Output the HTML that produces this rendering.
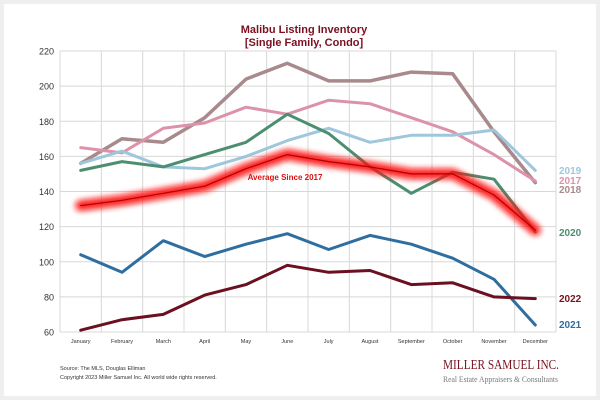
<!DOCTYPE html>
<html><head><meta charset="utf-8"><style>
body{margin:0;background:#efefef;font-family:"Liberation Sans",sans-serif}
#card{position:absolute;left:4px;top:4px;width:592px;height:392px;background:#fff}
</style></head><body>
<div id="card"></div>
<svg id="c" width="600" height="400" style="position:absolute;left:0;top:0">
<defs><filter id="glow" x="-10%" y="-50%" width="120%" height="200%"><feGaussianBlur stdDeviation="3"/></filter></defs>
</svg>
<script>
const months=["January","February","March","April","May","June","July","August","September","October","November","December"];
const yTicks=[60,80,100,120,140,160,180,200,220];
const s2017=[165,162,176,179,188,184,192,190,182,174,161,146];
const s2018=[156,170,168,182,204,213,203,203,208,207,174,145];
const s2019=[156,163,154,153,160,169,176,168,172,172,175,152];
const s2020=[152,157,154,161,168,184,173,154,139,151,147,117];
const s2021=[104,94,112,103,110,116,107,115,110,102,90,64];
const s2022=[61,67,70,81,87,98,94,95,87,88,80,79];
const sAvg=[132,135,139,143,153,161,157,154,150,150,138,118];
const NS="http://www.w3.org/2000/svg",svg=document.getElementById('c');
const L=60,R=556,T=51,B=332,ymin=60,ymax=220;
const bw=(R-L)/months.length;
const x=i=>L+bw*(i+0.5), y=v=>B-(v-ymin)/(ymax-ymin)*(B-T);
function el(t,a,txt){const e=document.createElementNS(NS,t);for(const k in a)e.setAttribute(k,a[k]);if(txt!=null)e.textContent=txt;svg.appendChild(e);return e;}
let e;
e=el('text',{x:304,y:33,'text-anchor':'middle','font-size':11,'font-weight':'bold',fill:'#7a1020'},'Malibu Listing Inventory');


e=el('text',{x:304,y:46,'text-anchor':'middle','font-size':11,'font-weight':'bold',fill:'#7a1020'},'[Single Family, Condo]');


yTicks.forEach(v=>{
 e=el('line',{x1:L,x2:R,y1:y(v),y2:y(v),stroke:'#d8d8d8','stroke-width':1});
 
 
 e=el('text',{x:L-6,y:y(v)+3.5,'text-anchor':'end','font-size':9,fill:'#333'},v);
 
 
});
for(let i=0;i<=months.length;i++){
 e=el('line',{x1:L+bw*i,x2:L+bw*i,y1:T,y2:B,stroke:'#d8d8d8','stroke-width':1});
 
 
}
months.forEach((m,i)=>{
 e=el('text',{x:x(i),y:B+11,'text-anchor':'middle','font-size':5.5,fill:'#333'},m);
 
 
});
const pts=a=>a.map((v,i)=>x(i).toFixed(1)+','+y(v).toFixed(1)).join(' ');
function series(a,col,w,name){
 e=el('polyline',{points:pts(a),fill:'none',stroke:col,'stroke-width':w,'stroke-linejoin':'round','stroke-linecap':'round'});
 
 
}
series(s2018,'#a88a8c',3.5,'line-2018');
series(s2017,'#dc93aa',3,'line-2017');
series(s2019,'#9ec7dc',3,'line-2019');
series(s2020,'#4b8f70',3,'line-2020');
e=el('polyline',{points:pts(sAvg),fill:'none',stroke:'#ff1010','stroke-width':11,'stroke-linejoin':'round','stroke-linecap':'round',filter:'url(#glow)',opacity:0.9});


series(sAvg,'#b00000',1.2,'line-average');
series(s2021,'#2f6e9e',3,'line-2021');
series(s2022,'#6a1020',3,'line-2022');
e=el('text',{x:285,y:180,'text-anchor':'middle','font-size':8,'font-weight':'bold',fill:'#e01010'},'Average  Since 2017');


const legNames=['2019','2017','2018','2020','2022','2021'];
const legCols=['#9ec7dc','#dc93aa','#a88a8c','#4b8f70','#7a1020','#2f6e9e'];
const legY=[174,184,193,236,302,328];
legNames.forEach((n,i)=>{
 e=el('text',{x:559,y:legY[i],'font-size':10,'font-weight':'bold',fill:legCols[i]},n);
 
 
});
e=el('text',{x:60,y:370,'font-size':5.5,fill:'#333'},'Source: The MLS, Douglas Elliman');


e=el('text',{x:60,y:379,'font-size':5.5,fill:'#333'},'Copyright 2023 Miller Samuel Inc.  All world wide rights reserved.');


e=el('text',{x:443,y:369,'font-size':14,fill:'#7a1020','font-family':'Liberation Serif, serif',textLength:116,lengthAdjust:'spacingAndGlyphs'},'MILLER SAMUEL INC.');


e=el('text',{x:443,y:382,'font-size':8,fill:'#777','font-family':'Liberation Serif, serif',textLength:115,lengthAdjust:'spacingAndGlyphs'},'Real Estate Appraisers & Consultants');


</script>
</body></html>
